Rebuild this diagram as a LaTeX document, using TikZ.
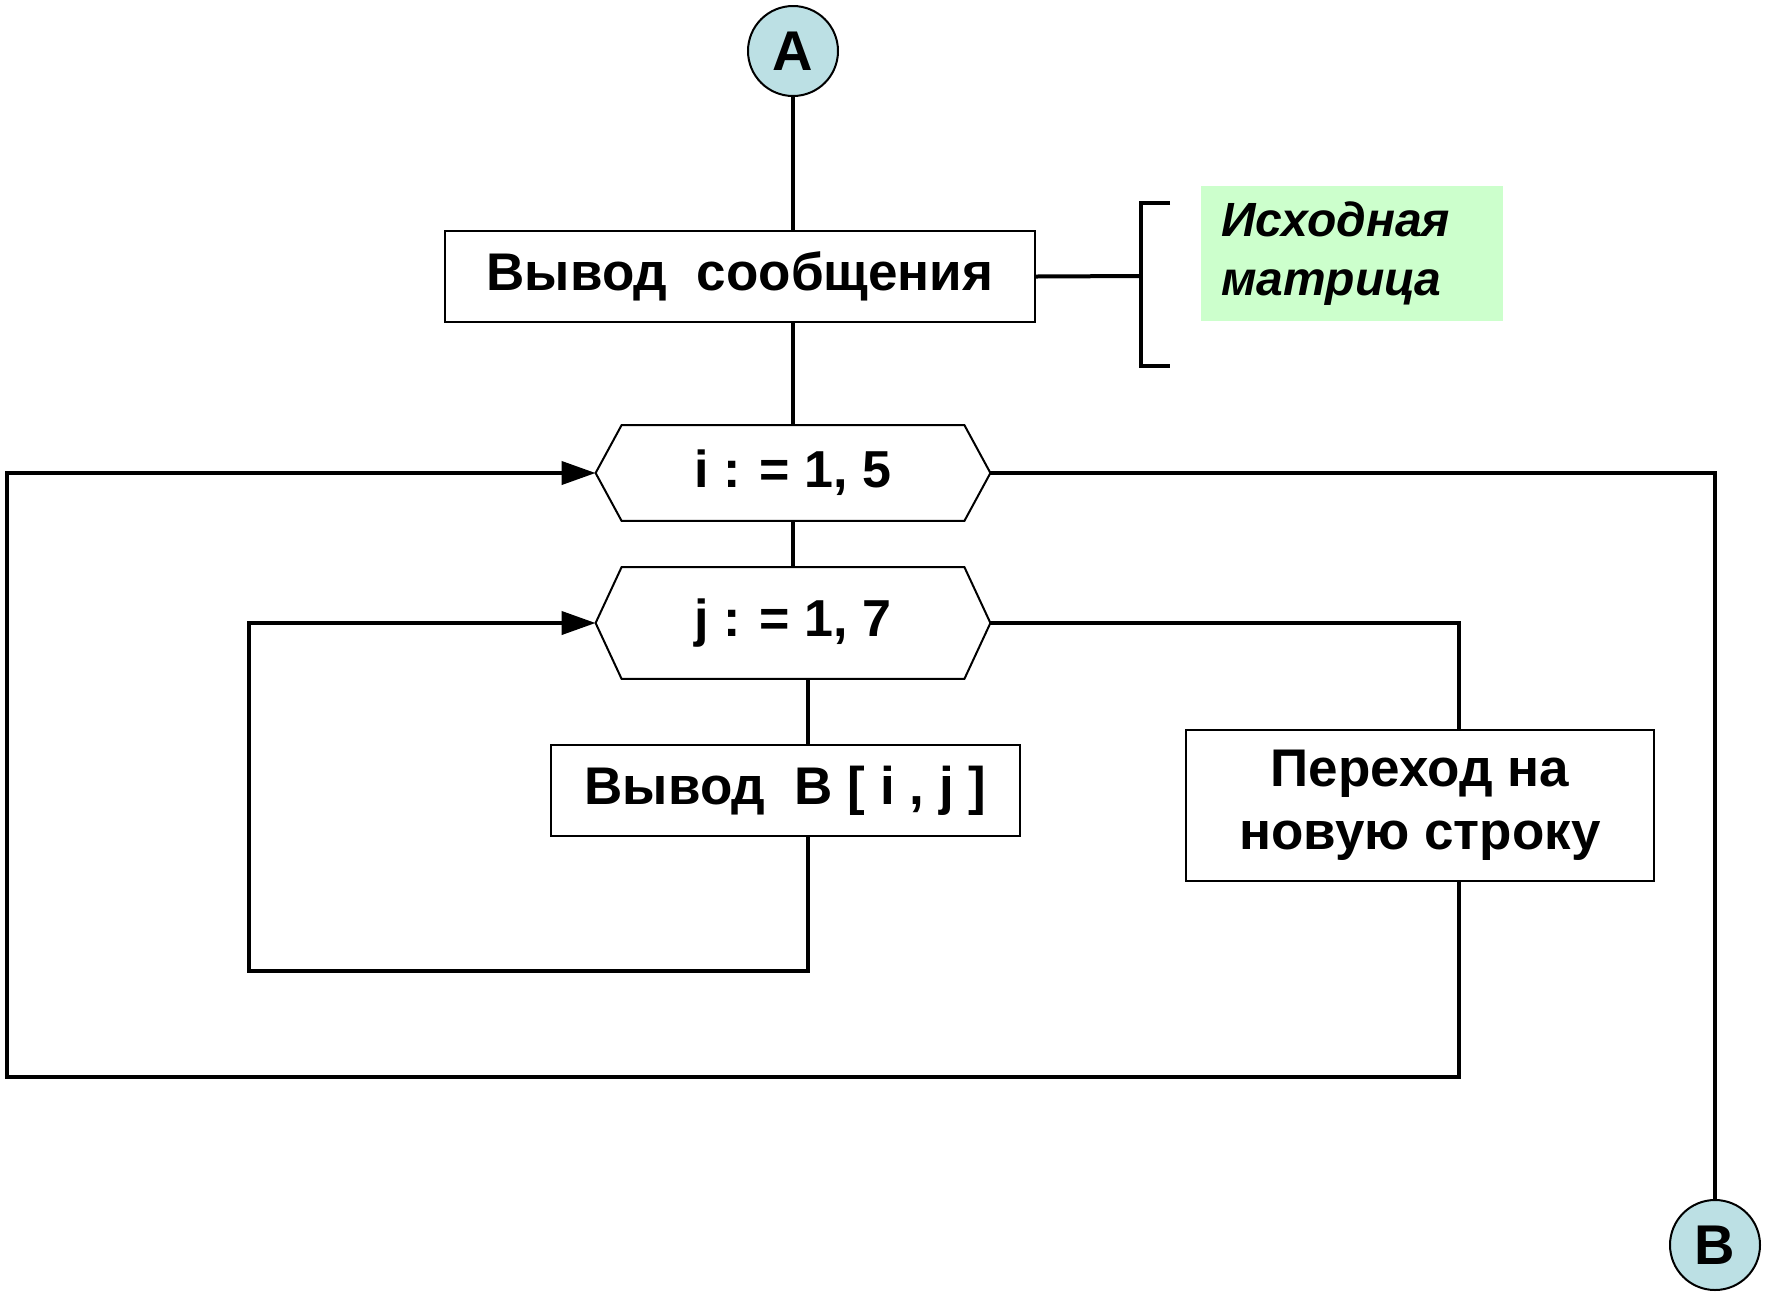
\documentclass[tikz,border=0pt]{standalone}
\usepackage{fontspec}
\setmainfont{Liberation Sans}
\usetikzlibrary{arrows.meta,calc}
\definecolor{connfill}{RGB}{188,224,228}
\definecolor{notefill}{RGB}{204,255,204}
\begin{document}
\begin{tikzpicture}[x=0.5pt,y=-0.5pt,
  line/.style={line width=2pt},
  arr/.style={line width=2pt,-{Triangle[length=17pt,width=11.5pt]}},
  conn/.style={circle,draw,line width=1pt,fill=connfill,minimum size=45pt,inner sep=0pt,font=\fontsize{28}{30}\selectfont\bfseries},
  procbox/.style={rectangle,draw,line width=1pt,inner sep=0pt,font=\fontsize{26.5}{31.5}\selectfont\bfseries,align=center},
  loopnode/.style={rectangle,inner sep=0pt,minimum width=197pt,font=\fontsize{26}{30}\selectfont\bfseries},
  hexa/.style={line width=1pt}
]
\useasboundingbox (0,0) rectangle (1767,1297);

% connectors A and B
\node[conn] (A) at (793,51) {A};
\node[conn] (B) at (1715,1245) {B};

% process blocks
\node[procbox,minimum width=295pt,minimum height=45.5pt] (msg) at (740,276.5) {Вывод\ \ сообщения};
\node[procbox,minimum width=234.5pt,minimum height=45.5pt] (out) at (785.5,790.5) {Вывод\ \ B [ i , j ]};
\node[procbox,minimum width=234pt,minimum height=75.5pt] (nl) at (1420,805.5) {Переход на\\новую строку};

% comment block
\node[rectangle,fill=notefill,inner sep=0pt,inner xsep=10pt,text width=131pt,minimum height=67.5pt,align=left,
      font=\fontsize{24}{29.5}\selectfont\bfseries\itshape] (note) at (1352,253.5) {Исходная\\матрица};

% loop headers (hexagons)
\node[loopnode,minimum height=47.5pt] (li) at (793,473) {i : = 1, 5};
\node[loopnode,minimum height=55.5pt] (lj) at (793,623) {j : = 1, 7};
\foreach \h in {li,lj}{
  \draw[hexa] (\h.west) -- ([xshift=13pt]\h.north west) -- ([xshift=-13pt]\h.north east) -- (\h.east)
    -- ([xshift=-13pt]\h.south east) -- ([xshift=13pt]\h.south west) -- cycle;
}

% main flow
\draw[line] (A.south) -- (A.south |- msg.north);
\draw[line] (A |- msg.south) -- (li.north);
\draw[line] (li.south) -- (lj.north);
\coordinate (jx) at (808,0);
\draw[line] (jx |- lj.south) -- (jx |- out.north);

% comment bracket
\coordinate (br) at (1141,276);
\draw[line] (msg.east) -- (br);
\draw[line] (1170,203) -- (1141,203) -- (1141,366) -- (1170,366);

% inner loop return
\coordinate (ib) at (808,971);
\coordinate (il) at (249,971);
\draw[arr] (jx |- out.south) -- (ib) -- (il) -- (il |- lj.west) -- (lj.west);

% inner loop exit -> new line -> outer loop return
\coordinate (nx) at (1459,0);
\draw[line] (lj.east) -- (nx |- lj.east) -- (nx |- nl.north);
\coordinate (ob) at (1459,1077);
\coordinate (ol) at (7,1077);
\draw[arr] (nx |- nl.south) -- (ob) -- (ol) -- (ol |- li.west) -- (li.west);

% outer loop exit
\draw[line] (li.east) -- (B.north |- li.east) -- (B.north);
\end{tikzpicture}
\end{document}
